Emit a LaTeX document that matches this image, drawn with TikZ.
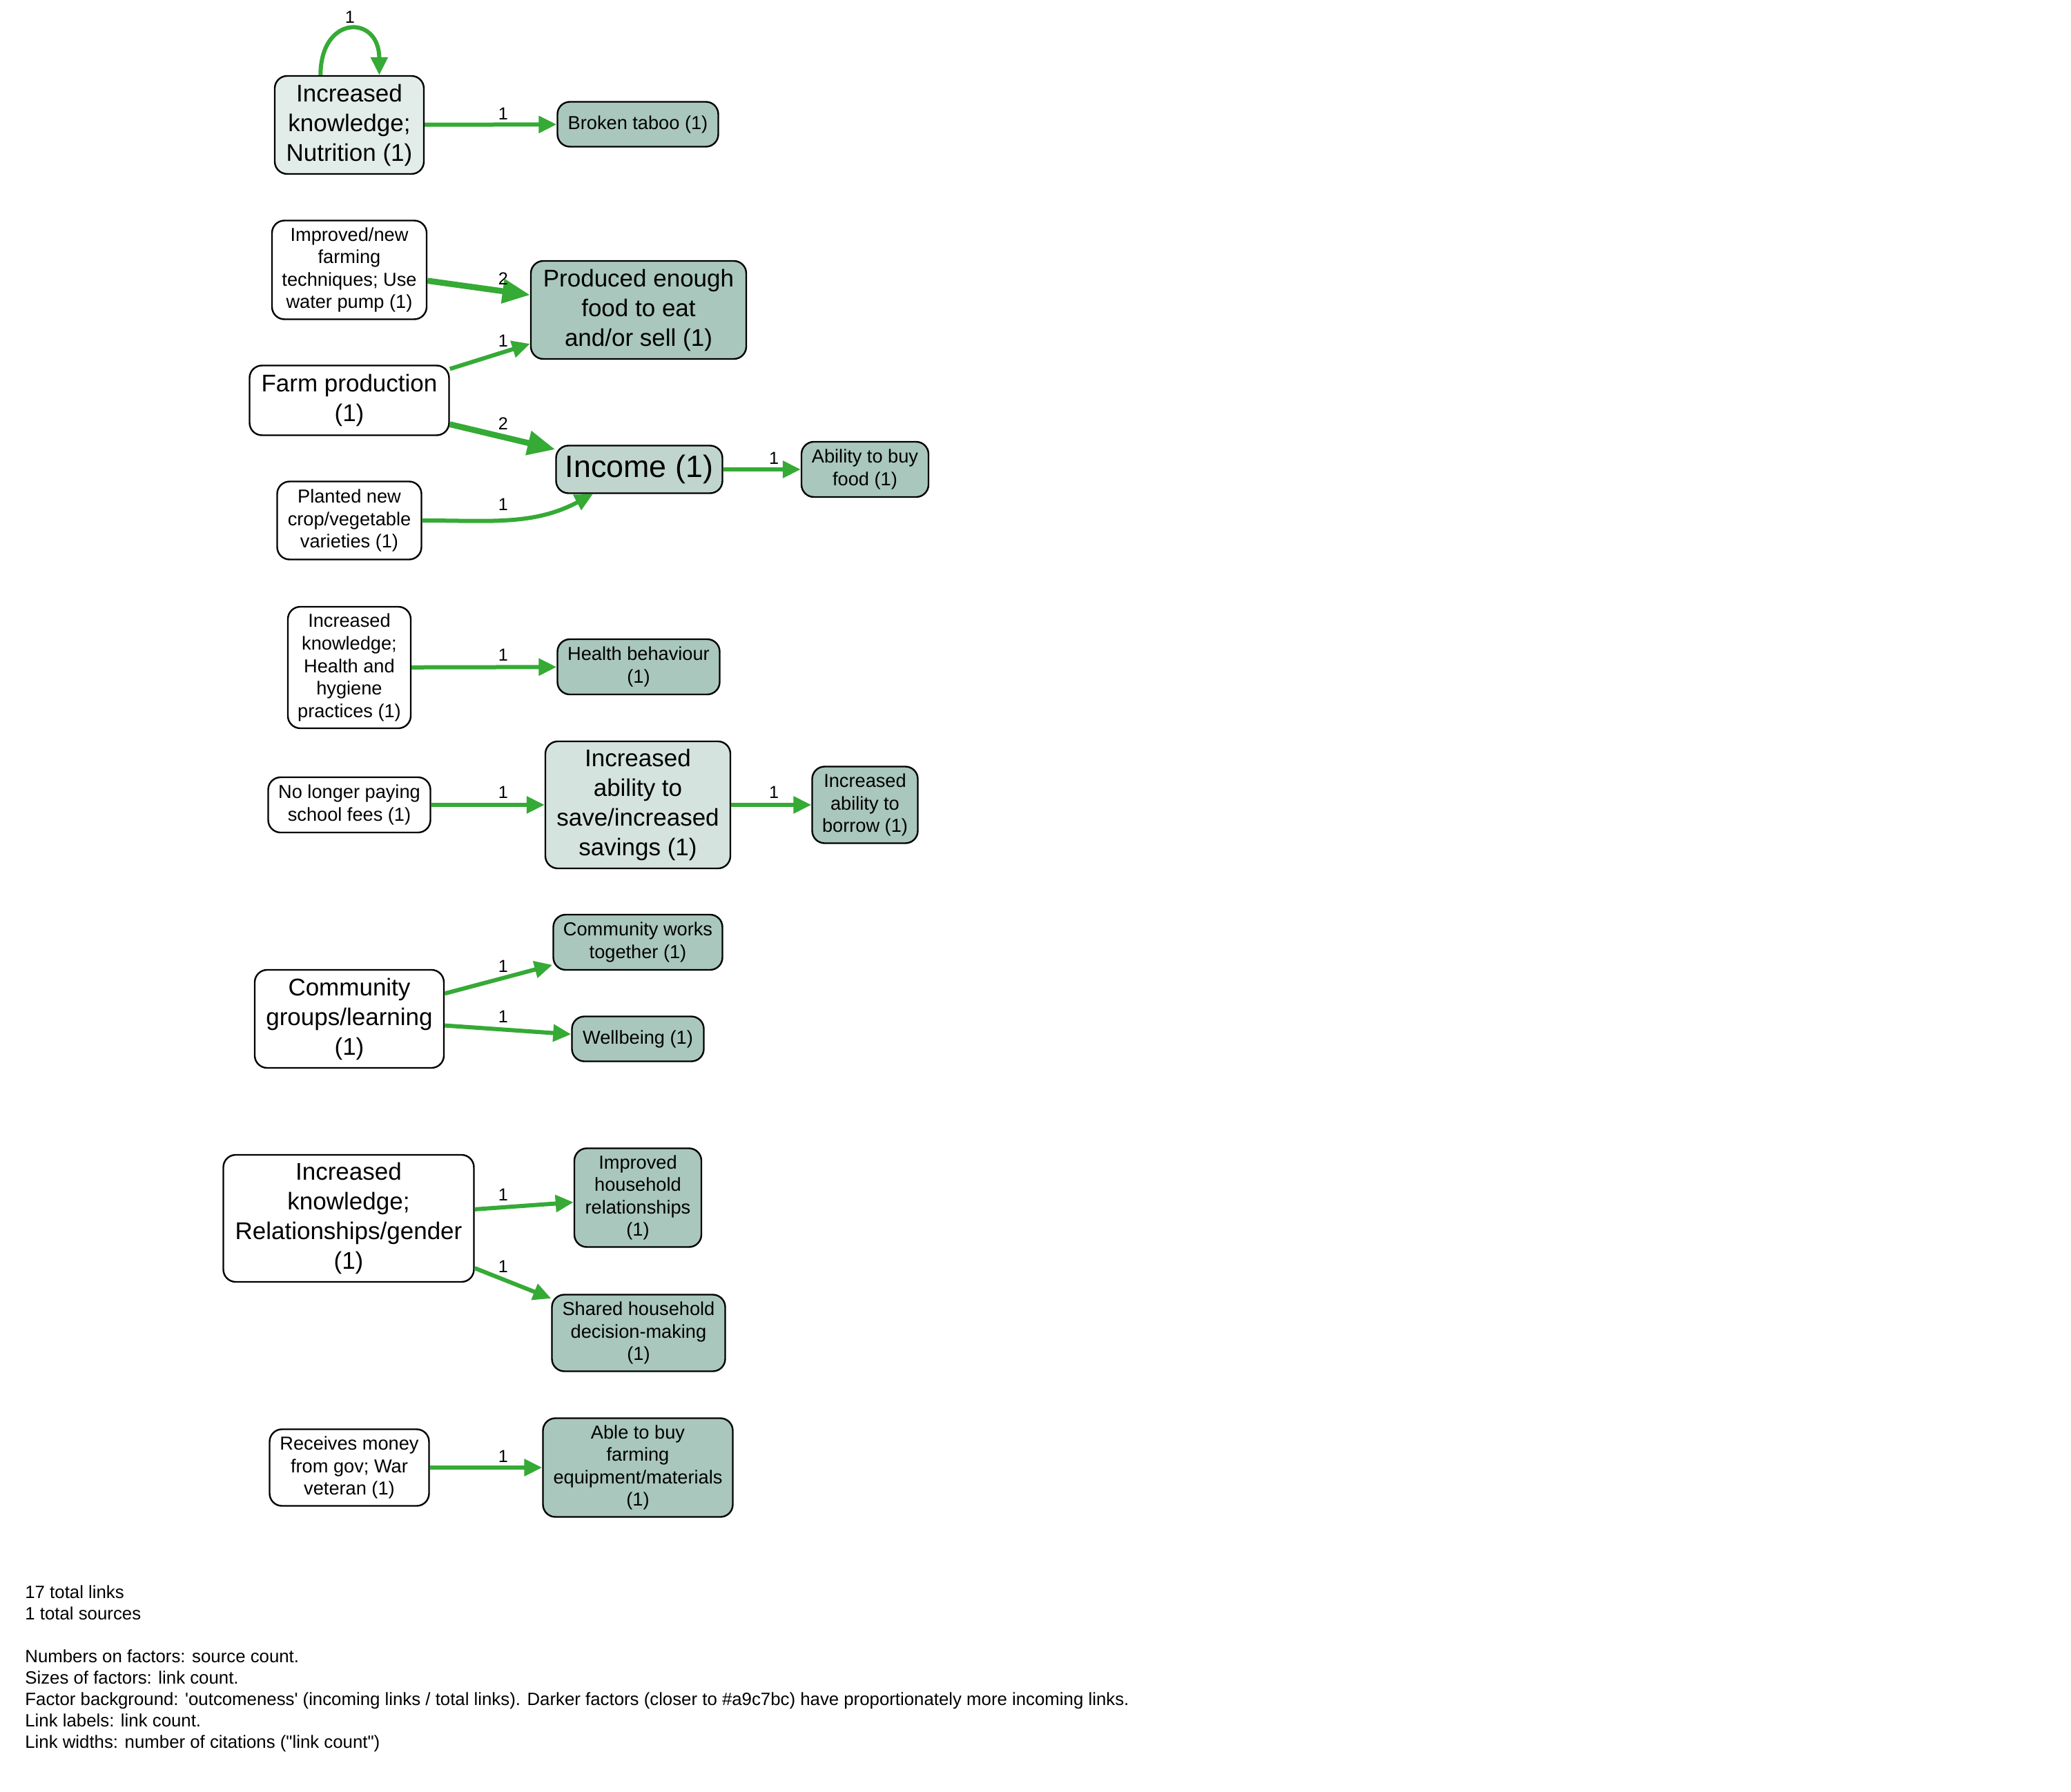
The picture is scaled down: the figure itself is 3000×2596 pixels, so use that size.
\documentclass[tikz,border=0pt]{standalone}
\usepackage{fontspec}
\setmainfont{Liberation Sans}
\newfontfamily\legfont{Liberation Sans}[Ligatures=TeXOff]
\usetikzlibrary{arrows.meta}
\definecolor{dark}{HTML}{A9C7BC}
\definecolor{incfill}{HTML}{BFD5CD}
\definecolor{savfill}{HTML}{D4E3DD}
\definecolor{nutfill}{HTML}{E2ECE9}
\definecolor{linkgreen}{RGB}{53,170,53}
\begin{document}
\begin{tikzpicture}[x=0.5pt,y=-0.5pt,
 factor/.style={draw=black, line width=1.2pt, rounded corners=9pt, align=center, inner sep=0pt},
 sz/.style 2 args={minimum width=#1*0.5pt, minimum height=#2*0.5pt},
 small/.style={font=\fontsize{13.6}{16.3}\selectfont},
 large/.style={font=\fontsize{17.5}{21.5}\selectfont},
 biggest/.style={font=\fontsize{22.4}{26}\selectfont},
 link/.style={draw=linkgreen, line width=3pt, -{Triangle[length=13pt,width=12pt]}},
 linktwo/.style={draw=linkgreen, line width=4.3pt, -{Triangle[length=20pt,width=17pt]}},
 lbl/.style={font=\fontsize{12.6}{15}\selectfont, inner sep=0pt},
 legend/.style={font=\legfont\fontsize{12.9}{15.5}\selectfont, anchor=base west, inner sep=0pt},
]
\useasboundingbox[fill=white] (0,0) rectangle (3000,2596);

% nodes
\node[factor, large, fill=nutfill, sz={216}{142}] (n1) at (506,181) {Increased\\knowledge;\\Nutrition (1)};
\node[factor, small, fill=dark, sz={233}{65}] (n2) at (924,180) {Broken taboo (1)};
\node[factor, small, fill=white, sz={224}{143}] (n3) at (506,391) {Improved/new\\farming\\techniques; Use\\water pump (1)};
\node[factor, large, fill=dark, sz={312}{142}] (n4) at (925,449) {Produced enough\\food to eat\\and/or sell (1)};
\node[factor, large, fill=white, sz={289}{101}] (n5) at (506,580) {Farm production\\(1)};
\node[factor, biggest, fill=incfill, sz={241}{69}] (n6) at (926,680) {Income (1)};
\node[factor, small, fill=dark, sz={184}{80}] (n7) at (1253,680) {Ability to buy\\food (1)};
\node[factor, small, fill=white, sz={209}{113}] (n8) at (506,754) {Planted new\\crop/vegetable\\varieties (1)};
\node[factor, small, fill=white, sz={178}{176}] (n9) at (506,967) {Increased\\knowledge;\\Health and\\hygiene\\practices (1)};
\node[factor, small, fill=dark, sz={235}{80}] (n10) at (925,966) {Health behaviour\\(1)};
\node[factor, small, fill=white, sz={235}{80}] (n11) at (506,1166) {No longer paying\\school fees (1)};
\node[factor, large, fill=savfill, sz={268}{184}] (n12) at (924,1166) {Increased\\ability to\\save/increased\\savings (1)};
\node[factor, small, fill=dark, sz={153}{111}] (n13) at (1253,1166) {Increased\\ability to\\borrow (1)};
\node[factor, large, fill=white, sz={274}{142}] (n14) at (506,1476) {Community\\groups/learning\\(1)};
\node[factor, small, fill=dark, sz={245}{80}] (n15) at (924,1365) {Community works\\together (1)};
\node[factor, small, fill=dark, sz={191}{65}] (n16) at (924,1505) {Wellbeing (1)};
\node[factor, large, fill=white, sz={363}{184}] (n17) at (505,1765) {Increased\\knowledge;\\Relationships/gender\\(1)};
\node[factor, small, fill=dark, sz={184}{143}] (n18) at (924,1735) {Improved\\household\\relationships\\(1)};
\node[factor, small, fill=dark, sz={251}{111}] (n19) at (925,1931) {Shared household\\decision-making\\(1)};
\node[factor, small, fill=white, sz={231}{111}] (n20) at (506,2126) {Receives money\\from gov; War\\veteran (1)};
\node[factor, small, fill=dark, sz={275}{143}] (n21) at (924,2126) {Able to buy\\farming\\equipment/materials\\(1)};

% links
\draw[link] (n1.120) .. controls +(0,-88) and +(0,-88) .. (n1.59);
\draw[link] (n1) -- (n2);
\draw[linktwo] (n3) -- (n4);
\draw[link] (n5) -- (n4);
\draw[linktwo] (n5) -- (n6);
\draw[link] (n8) to[out=0,in=-152] (n6);
\draw[link] (n6) -- (n7);
\draw[link] (n9) -- (n10);
\draw[link] (n11) -- (n12);
\draw[link] (n12) -- (n13);
\draw[link] (n14) -- (n15);
\draw[link] (n14) -- (n16);
\draw[link] (n17) -- (n18);
\draw[link] (n17) -- (n19);
\draw[link] (n20) -- (n21);

% link labels
\node[lbl] (l1) at (507,25) {1};
\node[lbl] (l2) at (729,165) {1};
\node[lbl] (l3) at (729,404) {2};
\node[lbl] (l4) at (729,494) {1};
\node[lbl] (l5) at (729,614) {2};
\node[lbl] (l6) at (729,731) {1};
\node[lbl] (l7) at (1121,664) {1};
\node[lbl] (l8) at (729,949) {1};
\node[lbl] (l9) at (729,1148) {1};
\node[lbl] (l10) at (1121,1148) {1};
\node[lbl] (l11) at (729,1400) {1};
\node[lbl] (l12) at (729,1473) {1};
\node[lbl] (l13) at (729,1731) {1};
\node[lbl] (l14) at (729,1835) {1};
\node[lbl] (l15) at (729,2110) {1};

% legend
\node[legend] (g1) at (36,2315) {17 total links};
\node[legend] (g2) at (36,2346) {1 total sources};
\node[legend] (g3) at (36,2408) {Numbers on factors: source count.};
\node[legend] (g4) at (36,2439) {Sizes of factors: link count.};
\node[legend] (g5) at (36,2470) {Factor background: 'outcomeness' (incoming links / total links). Darker factors (closer to \#a9c7bc) have proportionately more incoming links.};
\node[legend] (g6) at (36,2501) {Link labels: link count.};
\node[legend] (g7) at (36,2532) {Link widths: number of citations ("link count")};
\end{tikzpicture}
\end{document}
